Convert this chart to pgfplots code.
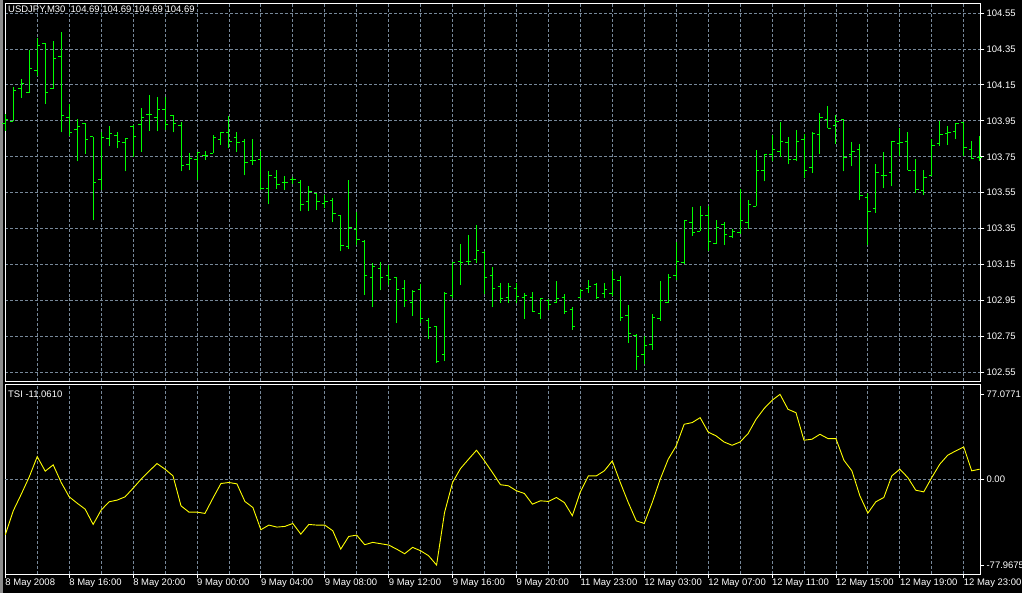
\documentclass[border=0pt]{standalone}
\usepackage{fontspec}
\setmainfont{Liberation Sans}
\usepackage{pgfplots}
\usepackage{pgfplotstable}
\pgfplotsset{compat=1.18}

\definecolor{mtgrid}{RGB}{119,136,153}
\definecolor{mtbar}{RGB}{0,255,0}
\definecolor{mttsi}{RGB}{255,255,0}

% open tick to the left, close tick to the right
\pgfdeclareplotmark{ohlcopen}{\pgfpathmoveto{\pgfpoint{-2.8pt}{0pt}}\pgfpathlineto{\pgfpoint{0pt}{0pt}}\pgfusepathqstroke}
\pgfdeclareplotmark{ohlcclose}{\pgfpathmoveto{\pgfpoint{0pt}{0pt}}\pgfpathlineto{\pgfpoint{2.8pt}{0pt}}\pgfusepathqstroke}

% USDJPY M30 bars, i = bar number
\pgfplotstableread{
i O H L C
0 103.933 103.989 103.896 103.959
1 103.948 104.137 103.948 104.121
2 104.132 104.182 104.079 104.159
3 104.107 104.344 104.107 104.243
4 104.232 104.411 104.200 104.371
5 104.382 104.382 104.046 104.109
6 104.129 104.393 104.129 104.298
7 104.309 104.444 103.885 103.982
8 103.971 104.043 103.865 103.887
9 103.900 103.961 103.724 103.921
10 103.937 103.937 103.768 103.848
11 103.861 103.861 103.396 103.609
12 103.621 103.889 103.563 103.859
13 103.850 103.922 103.807 103.882
14 103.871 103.889 103.796 103.837
15 103.832 103.850 103.668 103.850
16 103.918 103.928 103.746 103.863
17 103.928 104.021 103.779 103.971
18 103.983 104.096 103.896 103.983
19 103.967 104.085 103.891 104.011
20 104.011 104.082 103.900 103.932
21 103.978 103.982 103.885 103.937
22 103.922 103.946 103.668 103.700
23 103.709 103.771 103.674 103.739
24 103.737 103.776 103.618 103.772
25 103.757 103.783 103.733 103.757
26 103.771 103.871 103.771 103.859
27 103.848 103.889 103.817 103.883
28 103.887 103.974 103.798 103.837
29 103.859 103.889 103.779 103.832
30 103.837 103.848 103.646 103.721
31 103.728 103.848 103.706 103.728
32 103.737 103.783 103.567 103.576
33 103.571 103.672 103.485 103.648
34 103.637 103.678 103.572 103.598
35 103.609 103.641 103.567 103.609
36 103.621 103.635 103.598 103.621
37 103.609 103.622 103.446 103.487
38 103.500 103.589 103.446 103.559
39 103.548 103.548 103.456 103.500
40 103.489 103.539 103.465 103.500
41 103.509 103.521 103.385 103.437
42 103.426 103.426 103.224 103.259
43 103.248 103.622 103.237 103.359
44 103.348 103.443 103.257 103.287
45 103.276 103.287 102.983 103.087
46 103.076 103.159 102.913 103.137
47 103.126 103.165 103.007 103.076
48 103.087 103.148 103.035 103.065
49 103.076 103.076 102.824 103.009
50 103.015 103.065 102.913 102.948
51 102.937 103.009 102.863 102.998
52 103.009 103.043 102.824 102.848
53 102.837 102.854 102.735 102.798
54 102.804 102.804 102.602 102.613
55 102.648 102.998 102.613 102.987
56 102.976 103.165 102.965 103.159
57 103.165 103.267 103.035 103.159
58 103.165 103.317 103.148 103.165
59 103.176 103.372 103.159 103.226
60 103.215 103.226 102.987 103.076
61 103.087 103.137 102.913 103.015
62 103.026 103.048 102.937 102.959
63 102.965 103.048 102.937 103.026
64 103.015 103.048 102.937 102.974
65 102.965 102.989 102.848 102.976
66 102.965 102.998 102.887 102.887
67 102.876 102.959 102.848 102.959
68 102.948 102.959 102.898 102.926
69 102.937 103.059 102.937 102.959
70 102.965 102.987 102.876 102.887
71 102.898 102.915 102.787 102.804
72 102.965 103.015 102.965 103.004
73 103.015 103.065 102.993 103.026
74 103.037 103.048 102.959 102.965
75 102.987 103.048 102.965 103.009
76 102.987 103.115 102.976 103.065
77 103.059 103.087 102.837 102.854
78 102.865 102.926 102.715 102.765
79 102.754 102.765 102.565 102.637
80 102.648 102.754 102.598 102.698
81 102.704 102.876 102.676 102.854
82 102.848 103.059 102.837 102.948
83 102.937 103.098 102.937 103.076
84 103.087 103.276 103.065 103.165
85 103.159 103.398 103.154 103.398
86 103.387 103.471 103.309 103.326
87 103.337 103.478 103.337 103.426
88 103.421 103.476 103.226 103.276
89 103.265 103.398 103.265 103.359
90 103.371 103.387 103.259 103.315
91 103.309 103.348 103.298 103.337
92 103.326 103.571 103.321 103.398
93 103.387 103.511 103.348 103.487
94 103.476 103.789 103.474 103.676
95 103.672 103.761 103.613 103.761
96 103.761 103.872 103.728 103.789
97 103.782 103.941 103.748 103.837
98 103.832 103.861 103.707 103.737
99 103.737 103.900 103.724 103.837
100 103.848 103.878 103.629 103.672
101 103.689 103.887 103.659 103.882
102 103.872 103.991 103.767 103.971
103 103.959 104.033 103.909 103.909
104 103.922 103.983 103.821 103.948
105 103.959 103.959 103.668 103.748
106 103.761 103.832 103.698 103.782
107 103.793 103.822 103.509 103.537
108 103.526 103.548 103.259 103.448
109 103.461 103.711 103.437 103.661
110 103.648 103.774 103.574 103.648
111 103.661 103.839 103.585 103.835
112 103.826 103.909 103.752 103.832
113 103.837 103.887 103.674 103.676
114 103.676 103.739 103.548 103.568
115 103.561 103.678 103.537 103.637
116 103.648 103.850 103.648 103.811
117 103.822 103.950 103.811 103.874
118 103.882 103.922 103.818 103.885
119 103.889 103.937 103.848 103.937
120 103.939 103.941 103.752 103.800
121 103.789 103.839 103.737 103.741
122 103.748 103.863 103.724 103.748
}\pricedata

% TSI values per bar
\pgfplotstableread{
i t
0 -50.5
1 -28.7
2 -13.6
3 2.1
4 20.5
5 7.3
6 13.0
7 -3.0
8 -16.0
9 -21.8
10 -27.2
11 -41.1
12 -28.1
13 -20.5
14 -19.0
15 -16.0
16 -8.2
17 0.0
18 7.3
19 14.2
20 9.1
21 3.0
22 -24.2
23 -29.9
24 -29.9
25 -31.1
26 -17.2
27 -3.9
28 -3.0
29 -4.2
30 -20.2
31 -25.7
32 -45.9
33 -41.7
34 -43.5
35 -42.9
36 -40.2
37 -49.9
38 -41.1
39 -41.7
40 -41.7
41 -46.8
42 -63.5
43 -52.0
44 -50.8
45 -59.5
46 -57.4
47 -58.6
48 -59.8
49 -63.5
50 -67.7
51 -61.9
52 -65.0
53 -69.5
54 -77.97
55 -30.2
56 -3.0
57 9.7
58 18.1
59 26.3
60 16.6
61 6.0
62 -5.0
63 -6.0
64 -10.5
65 -13.0
66 -22.7
67 -19.6
68 -20.2
69 -16.6
70 -21.2
71 -33.2
72 -11.5
73 3.0
74 3.0
75 7.6
76 16.6
77 -3.0
78 -21.2
79 -37.8
80 -40.2
81 -21.2
82 0.0
83 18.1
84 30.2
85 49.9
86 51.4
87 55.9
88 42.9
89 39.3
90 33.8
91 30.8
92 33.8
93 41.4
94 54.4
95 64.1
96 71.6
97 77.08
98 63.5
99 60.4
100 35.4
101 36.3
102 40.8
103 36.9
104 36.9
105 17.2
106 7.6
107 -15.1
108 -30.8
109 -20.5
110 -16.6
111 3.0
112 9.1
113 1.5
114 -10.0
115 -11.5
116 1.5
117 13.6
118 21.8
119 25.7
120 29.3
121 7.6
122 9.1
}\tsidata

\pgfplotsset{
  mt/.style={
    scale only axis, width=977pt,
    anchor=south west,
    axis background/.style={fill=black},
    axis line style={white, line width=0.8pt},
    xmin=-0.0375, xmax=122.0875,
    grid style={mtgrid, dash pattern=on 3pt off 2pt, line width=0.8pt},
    tick style={white, line width=0.8pt},
    tick align=outside, major tick length=4pt,
    ytick pos=right, yticklabel pos=right,
    xtick pos=bottom,
    font=\fontsize{9.5}{11}\selectfont,
    ticklabel style={white, inner sep=0pt},
    yticklabel style={anchor=west, xshift=2pt},
  }
}

\begin{document}
\begin{tikzpicture}
\fill[black] (0,0) rectangle (1024pt,594pt);
\fill[black!45] (0,0) rectangle (2.6pt,594pt);

% price panel
\begin{axis}[mt, at={(5pt,212pt)}, height=379pt,
    ymin=102.5, ymax=104.6056,
    ytick={102.55,102.75,102.95,103.15,103.35,103.55,103.75,103.95,104.15,104.35,104.55},
    yticklabels={102.55,102.75,102.95,103.15,103.35,103.55,103.75,103.95,104.15,104.35,104.55},
    xtick={4,8,...,120}, xticklabels={},
    x tick style={draw=none},
    xmajorgrids, ymajorgrids]
\addplot[mtbar, line width=0.9pt, quiver={u=0, v=\thisrow{H}-\thisrow{L}}]
  table[x=i, y=L] {\pricedata};
\addplot[only marks, mark=ohlcopen, mark options={mtbar, line width=0.9pt}]
  table[x=i, y=O] {\pricedata};
\addplot[only marks, mark=ohlcclose, mark options={mtbar, line width=0.9pt}]
  table[x=i, y=C] {\pricedata};
\end{axis}

% TSI panel
\begin{axis}[mt, at={(5pt,19pt)}, height=190pt,
    ymin=-86.14, ymax=86.14,
    ytick={-77.9675,77.0771}, yticklabels={-77.9675,77.0771},
    extra y ticks={0}, extra y tick labels={0.00},
    extra y tick style={ymajorgrids=true},
    xtick={0,8,...,120},
    xticklabels={8 May 2008,8 May 16:00,8 May 20:00,9 May 00:00,9 May 04:00,9 May 08:00,9 May 12:00,9 May 16:00,9 May 20:00,11 May 23:00,12 May 03:00,12 May 07:00,12 May 11:00,12 May 15:00,12 May 19:00,12 May 23:00},
    xticklabel style={anchor=north west, xshift=0pt, yshift=-1pt},
    xmajorgrids,
    extra x ticks={4,12,...,116}, extra x tick labels={},
    extra x tick style={xmajorgrids=true, major tick length=0pt}]
\addplot[mttsi, line width=0.9pt] table[x=i, y=t] {\tsidata};
\end{axis}

\node[anchor=west, white, inner sep=0pt, font=\fontsize{9.5}{11}\selectfont] at (8pt,584pt) {USDJPY,M30\ \ 104.69 104.69 104.69 104.69};
\node[anchor=west, white, inner sep=0pt, font=\fontsize{9.5}{11}\selectfont] at (8pt,199pt) {TSI -11.0610};
\end{tikzpicture}
\end{document}
